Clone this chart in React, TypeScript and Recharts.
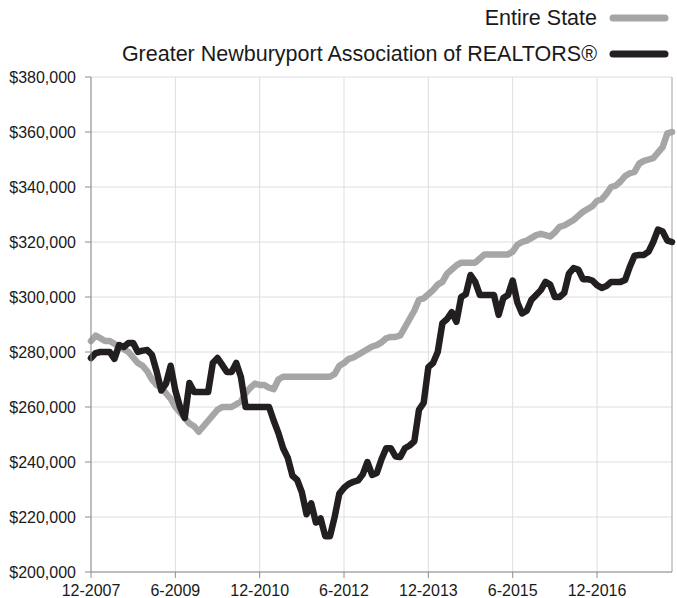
import React from "react";
import {
  CartesianGrid,
  Line,
  LineChart,
  ReferenceLine,
  XAxis,
  YAxis,
} from "recharts";

// monthly median price, 12-2007 .. 4-2018
const entireState = [
  284000, 286000, 285000, 284000, 284000, 283000, 282000, 281000, 280000, 278000,
  276000, 275000, 273000, 270000, 268000, 267000, 265000, 263000, 260000, 258000,
  256000, 254000, 253000, 251000, 253000, 255000, 257000, 259000, 260000, 260000,
  260000, 261000, 262000, 265000, 267000, 268500, 268000, 268000, 267000, 266500,
  270000, 271000, 271000, 271000, 271000, 271000, 271000, 271000, 271000, 271000,
  271000, 271000, 272000, 275000, 276000, 277500, 278000, 279000, 280000, 281000,
  282000, 282500, 283500, 285000, 285500, 285500, 286000, 289000, 292000, 295000,
  299000, 299500, 301000, 302500, 304500, 305500, 308500, 310000, 311500, 312500,
  312500, 312500, 312500, 314000, 315500, 315500, 315500, 315500, 315500, 315500,
  316500, 319000, 320000, 320500, 321500, 322500, 323000, 322500, 322000, 323500,
  325500, 326000, 327000, 328000, 329500, 331000, 332000, 333000, 335000, 335500,
  337500, 340000, 340500, 342000, 344000, 345000, 345500, 348500, 349500, 350000,
  350500, 352500, 354500, 359500, 360000,
];

const newburyport = [
  277800, 279600, 280000, 280000, 280000, 277500, 282500, 281800, 283300, 283300,
  280000, 280500, 280700, 279000, 273000, 266000, 268500, 275000, 266000, 260000,
  256000, 268700, 265500, 265500, 265500, 265500, 276000, 277800, 275300, 272700,
  272700, 276000, 270900, 260000, 260000, 260000, 260000, 260000, 260000, 255000,
  250500, 245000, 241500, 235000, 233500, 229000, 221000, 225000, 218000, 219500,
  213000, 213000, 220000, 228500, 230600, 232000, 232800, 233300, 235500, 240000,
  235300, 236000, 241000, 245000, 245000, 242000, 241800, 245000, 246000, 247500,
  259000, 261500, 274500, 276000, 280000, 290500, 292000, 294500, 291000, 300000,
  301000, 308000, 305500, 300700, 300700, 300700, 300700, 293500, 299600, 300700,
  306000, 298000, 294000, 295000, 299000, 300700, 302500, 305500, 304500, 300000,
  300000, 301500, 308500, 310500, 310000, 306500, 306500, 306000, 304300, 303300,
  304000, 305500, 305500, 305500, 306200, 311000, 315000, 315300, 315300, 316500,
  320000, 324500, 323800, 320500, 320000,
];

const tickLabels = ["12-2007", "6-2009", "12-2010", "6-2012", "12-2013", "6-2015", "12-2016"];
const yTicks = [200000, 220000, 240000, 260000, 280000, 300000, 320000, 340000, 360000, 380000];

const series = [
  { key: "state", name: "Entire State", color: "#a6a6a6", values: entireState },
  { key: "gnar", name: "Greater Newburyport Association of REALTORS®", color: "#231f20", values: newburyport },
];

// month labels like "12-2007", "1-2008", ...
const months = entireState.map((_, i) => {
  const n = 11 + i;
  return `${(n % 12) + 1}-${2007 + Math.floor(n / 12)}`;
});

const data = months.map((m, i) => ({
  month: m,
  state: entireState[i],
  gnar: newburyport[i],
}));

const fmt = (v: number) => "$" + v.toLocaleString("en-US");

export default function App() {
  return (
    <div
      style={{
        position: "absolute",
        left: 0,
        top: 0,
        width: 677,
        height: 598,
        fontFamily: "'Liberation Sans', Arial, sans-serif",
        background: "#fff",
      }}
    >
      <div style={{ position: "absolute", right: 8, top: 0 }}>
        {series.map((s) => (
          <div
            key={s.key}
            style={{
              display: "flex",
              alignItems: "center",
              justifyContent: "flex-end",
              height: 36,
              fontSize: 21.5,
              color: "#1a1a1a",
            }}
          >
            <span>{s.name}</span>
            <svg width={60} height={10} style={{ marginLeft: 12 }}>
              <line x1={4} y1={5} x2={56} y2={5} stroke={s.color} strokeWidth={7} strokeLinecap="round" />
            </svg>
          </div>
        ))}
      </div>
      <LineChart
        width={677}
        height={598}
        data={data}
        margin={{ top: 77, right: 5, left: 0, bottom: 0 }}
      >
        <CartesianGrid stroke="#dedede" strokeWidth={1} />
        <XAxis
          dataKey="month"
          ticks={tickLabels}
          interval={0}
          height={26}
          tick={{ fill: "#1a1a1a", fontSize: 16 }}
          tickSize={6}
          tickMargin={7}
          stroke="#8c8c8c"
        />
        <YAxis
          domain={[200000, 380000]}
          ticks={yTicks}
          tickFormatter={fmt}
          width={91}
          tick={{ fill: "#1a1a1a", fontSize: 16 }}
          tickSize={6}
          tickMargin={9}
          stroke="#8c8c8c"
        />
        <ReferenceLine x={months[months.length - 1]} stroke="#b0b0b0" />
        {series.map((s) => (
          <Line
            key={s.key}
            type="linear"
            dataKey={s.key}
            name={s.name}
            stroke={s.color}
            strokeWidth={6.5}
            strokeLinejoin="round"
            strokeLinecap="round"
            dot={false}
            isAnimationActive={false}
          />
        ))}
      </LineChart>
    </div>
  );
}
